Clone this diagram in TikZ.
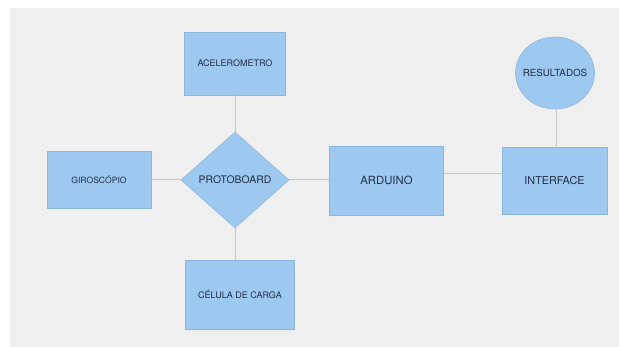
\documentclass[tikz,border=0pt]{standalone}
\usepackage{fontspec}
\setmainfont{TeX Gyre Heros}
\usetikzlibrary{shapes.geometric}
\definecolor{bgc}{HTML}{EFEFEF}
\definecolor{boxfill}{HTML}{9DC8EF}
\definecolor{boxline}{HTML}{8CB6DB}
\definecolor{linec}{HTML}{C6C6C6}
\definecolor{txt}{HTML}{1F2E48}
\tikzset{
  blk/.style={rectangle, fill=boxfill, draw=boxline, line width=0.6pt, inner sep=0pt, text=txt, align=center},
  rom/.style={diamond, fill=boxfill, draw=boxline, line width=0.6pt, inner sep=0pt, text=txt, aspect=1.125},
  circ/.style={ellipse, fill=boxfill, draw=boxline, line width=0.6pt, inner sep=0pt, text=txt},
  conn/.style={draw=linec, line width=1pt}
}
\begin{document}
\begin{tikzpicture}[x=1pt,y=-1pt]
\useasboundingbox (0,0) rectangle (619,347);
\fill[white] (0,0) rectangle (619,347);
\fill[bgc] (10,8) rectangle (619,347);
\node[blk, minimum width=101pt, minimum height=63pt, font=\fontsize{9}{10}\selectfont] (acel) at (235,63.5) {ACELEROMETRO};
\node[blk, minimum width=104pt, minimum height=57pt, font=\fontsize{8.6}{10}\selectfont] (giro) at (99,180) {GIROSCÓPIO};
\node[rom, minimum width=108pt, minimum height=96pt, font=\fontsize{10.4}{12}\selectfont] (prot) at (235,180) {PROTOBOARD};
\node[blk, minimum width=109pt, minimum height=69pt, font=\fontsize{9}{10}\selectfont] (cel) at (240,294.5) {CÉLULA DE CARGA};
\node[blk, minimum width=114pt, minimum height=69pt, font=\fontsize{11.3}{12}\selectfont] (ard) at (386.5,180.5) {ARDUINO};
\node[blk, minimum width=105pt, minimum height=67pt, font=\fontsize{10.8}{12}\selectfont] (int) at (554.5,181) {INTERFACE};
\node[circ, minimum width=79pt, minimum height=72pt, font=\fontsize{9.8}{11}\selectfont] (res) at (555,73) {\makebox[0pt]{RESULTADOS}};
\draw[conn] (acel.south) -- (prot.north);
\draw[conn] (giro.east) -- (prot.west);
\draw[conn] (prot.south) -- (prot.south |- cel.north);
\draw[conn] (prot.east) -- (prot.east -| ard.west);
\draw[conn] ([yshift=6.5pt]ard.east) -- ([yshift=6.5pt]ard.east -| int.west);
\draw[conn] ([xshift=1.5pt]res.south) -- ([xshift=1.5pt]res.south |- int.north);
\end{tikzpicture}
\end{document}
